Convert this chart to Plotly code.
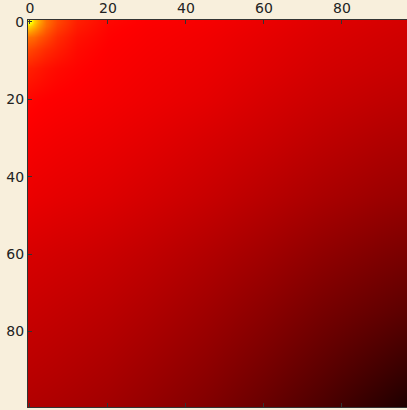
import plotly.graph_objects as go

grid_x = [0, 1, 2, 4, 7, 12, 20, 30, 45, 60, 75, 90, 99]
grid_y = [0, 1, 2, 4, 7, 12, 20, 30, 45, 60, 75, 90, 99]

# intensity (normalised 0..1 on the "hot" colour scale), rows follow grid_y
z_rows = [
    [0.78, 0.68, 0.62, 0.53, 0.47, 0.41, 0.375, 0.362, 0.352, 0.335, 0.318, 0.305, 0.298],
    [0.68, 0.64, 0.59, 0.52, 0.46, 0.405, 0.372, 0.360, 0.350, 0.333, 0.316, 0.303, 0.296],
    [0.62, 0.59, 0.56, 0.50, 0.45, 0.40, 0.370, 0.358, 0.348, 0.331, 0.314, 0.301, 0.294],
    [0.53, 0.52, 0.50, 0.47, 0.43, 0.39, 0.367, 0.356, 0.345, 0.328, 0.311, 0.298, 0.291],
    [0.47, 0.46, 0.45, 0.43, 0.41, 0.38, 0.363, 0.353, 0.342, 0.324, 0.307, 0.294, 0.287],
    [0.41, 0.405, 0.40, 0.39, 0.38, 0.37, 0.358, 0.348, 0.336, 0.318, 0.300, 0.287, 0.280],
    [0.372, 0.370, 0.368, 0.365, 0.362, 0.358, 0.350, 0.340, 0.326, 0.305, 0.287, 0.272, 0.264],
    [0.355, 0.353, 0.352, 0.350, 0.347, 0.343, 0.336, 0.325, 0.307, 0.288, 0.268, 0.250, 0.242],
    [0.335, 0.333, 0.332, 0.330, 0.327, 0.323, 0.315, 0.302, 0.283, 0.260, 0.238, 0.218, 0.208],
    [0.305, 0.304, 0.303, 0.301, 0.298, 0.294, 0.285, 0.272, 0.250, 0.225, 0.198, 0.174, 0.162],
    [0.283, 0.282, 0.281, 0.279, 0.276, 0.271, 0.262, 0.247, 0.222, 0.192, 0.160, 0.132, 0.115],
    [0.262, 0.261, 0.260, 0.258, 0.255, 0.249, 0.239, 0.222, 0.195, 0.160, 0.122, 0.082, 0.058],
    [0.248, 0.247, 0.246, 0.244, 0.241, 0.235, 0.225, 0.207, 0.178, 0.140, 0.098, 0.050, 0.020],
]

tick_vals = [0, 20, 40, 60, 80]
tick_text = ["0", "20", "40", "60", "80"]

hot_scale = [
    [0.0, "rgb(11,0,0)"],
    [0.365, "rgb(255,0,0)"],
    [0.746, "rgb(255,255,0)"],
    [1.0, "rgb(255,255,255)"],
]

fig = go.Figure(
    go.Heatmap(
        x=grid_x,
        y=grid_y,
        z=z_rows,
        colorscale=hot_scale,
        zmin=0,
        zmax=1,
        zsmooth="best",
        showscale=False,
        hoverinfo="skip",
    )
)

bg = "#f8efdc"
axis_font = dict(family="DejaVu Sans", size=14, color="#222222")

fig.update_layout(
    width=407,
    height=410,
    margin=dict(l=28, r=0, t=20, b=3),
    paper_bgcolor=bg,
    plot_bgcolor=bg,
    showlegend=False,
)
fig.update_xaxes(
    side="top",
    range=[-0.5, 96.7],
    tickvals=tick_vals,
    ticktext=tick_text,
    ticks="inside",
    ticklen=4,
    tickcolor="#333333",
    showline=True,
    linecolor="#333333",
    linewidth=1,
    mirror="allticks",
    showgrid=False,
    zeroline=False,
    tickfont=axis_font,
    automargin=False,
)
fig.update_yaxes(
    range=[99.5, -0.5],
    tickvals=tick_vals,
    ticktext=tick_text,
    ticks="inside",
    ticklen=4,
    tickcolor="#333333",
    showline=True,
    linecolor="#333333",
    linewidth=1,
    mirror=False,
    showgrid=False,
    zeroline=False,
    tickfont=axis_font,
    automargin=False,
)

fig.write_html(
    "out.html",
    config={"displayModeBar": False, "staticPlot": True},
    post_script="document.body.style.margin='0';document.body.style.overflow='hidden';"
    "document.body.style.background='" + bg + "';",
)
